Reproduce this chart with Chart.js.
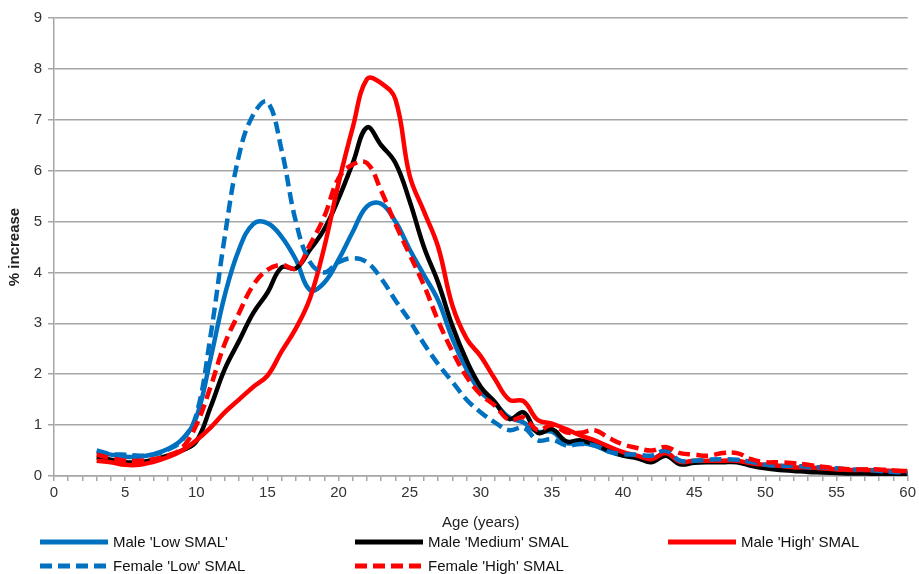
<!DOCTYPE html>
<html>
<head>
<meta charset="UTF-8">
<title>SMAL growth</title>
<script src="https://cdn.jsdelivr.net/npm/chart.js"></script>
<style>
  body { margin: 0; background: #fff; }
</style>
</head>
<body>
<canvas id="myChart" width="919" height="574"></canvas>
<script>
// ages in years
const ages = [3, 4, 5, 6, 7, 8, 9, 10, 11, 12, 13, 14, 15, 16, 17, 18, 19, 20,
  21, 22, 23, 24, 25, 26, 27, 28, 29, 30, 31, 32, 33, 34, 35, 36, 37, 38, 39, 40,
  41, 42, 43, 44, 45, 46, 47, 48, 49, 50, 51, 52, 53, 54, 55, 56, 57, 58, 59, 60];

const maleLow = [0.47, 0.42, 0.38, 0.38, 0.43, 0.53, 0.72, 1.15, 2.3, 3.55, 4.45, 4.95, 4.97, 4.7, 4.25, 3.65, 3.8, 4.25,
  4.8, 5.3, 5.35, 5.0, 4.45, 3.95, 3.45, 2.7, 2.1, 1.65, 1.42, 1.15, 1.05, 0.87, 0.87, 0.65, 0.65, 0.6, 0.48, 0.4,
  0.38, 0.33, 0.45, 0.27, 0.28, 0.28, 0.28, 0.28, 0.23, 0.2, 0.17, 0.15, 0.15, 0.12, 0.12, 0.1, 0.08, 0.08, 0.07, 0.05];

const maleMedium = [0.37, 0.32, 0.27, 0.27, 0.32, 0.4, 0.5, 0.68, 1.35, 2.1, 2.65, 3.2, 3.6, 4.1, 4.08, 4.45, 4.85, 5.45,
  6.15, 6.85, 6.5, 6.15, 5.4, 4.5, 3.8, 2.95, 2.27, 1.75, 1.45, 1.12, 1.25, 0.85, 0.92, 0.68, 0.7, 0.62, 0.5, 0.4,
  0.35, 0.27, 0.4, 0.23, 0.26, 0.27, 0.27, 0.27, 0.2, 0.15, 0.12, 0.1, 0.08, 0.07, 0.06, 0.05, 0.05, 0.04, 0.04, 0.03];

const maleHigh = [0.3, 0.27, 0.22, 0.22, 0.28, 0.37, 0.5, 0.7, 0.95, 1.25, 1.5, 1.75, 1.97, 2.45, 2.9, 3.5, 4.5, 5.75,
  6.85, 7.8, 7.72, 7.4, 5.9, 5.2, 4.5, 3.35, 2.7, 2.35, 1.9, 1.5, 1.47, 1.1, 1.03, 0.92, 0.8, 0.7, 0.58, 0.47,
  0.4, 0.33, 0.45, 0.28, 0.3, 0.3, 0.3, 0.3, 0.25, 0.22, 0.2, 0.17, 0.17, 0.15, 0.13, 0.12, 0.12, 0.11, 0.1, 0.1];

const femaleLow = [0.5, 0.43, 0.42, 0.4, 0.42, 0.52, 0.7, 1.2, 2.75, 4.7, 6.3, 7.1, 7.35, 6.4, 5.0, 4.2, 4.0, 4.2,
  4.28, 4.2, 3.88, 3.45, 3.05, 2.6, 2.2, 1.85, 1.5, 1.25, 1.05, 0.9, 0.95, 0.7, 0.72, 0.6, 0.63, 0.6, 0.48, 0.43,
  0.42, 0.4, 0.5, 0.3, 0.3, 0.32, 0.33, 0.32, 0.28, 0.22, 0.2, 0.2, 0.18, 0.17, 0.15, 0.13, 0.12, 0.1, 0.08, 0.07];

const femaleHigh = [0.42, 0.35, 0.3, 0.3, 0.33, 0.4, 0.55, 1.0, 1.75, 2.6, 3.2, 3.75, 4.05, 4.15, 4.08, 4.55, 5.1, 5.85,
  6.12, 6.15, 5.6, 4.95, 4.35, 3.75, 3.05, 2.45, 1.95, 1.6, 1.38, 1.1, 1.15, 0.9, 1.0, 0.86, 0.85, 0.9, 0.75, 0.62,
  0.55, 0.5, 0.57, 0.45, 0.42, 0.4, 0.45, 0.45, 0.33, 0.27, 0.27, 0.25, 0.22, 0.18, 0.15, 0.13, 0.13, 0.13, 0.11, 0.09];

const seriesNames = ["Male 'Low SMAL'", "Male 'Medium' SMAL", "Male 'High' SMAL", "Female 'Low' SMAL", "Female 'High' SMAL"];

const BLUE = '#0070C0';
const RED = '#FF0000';
const GRID = '#A6A6A6';
const FONT = "'Liberation Sans', Arial, sans-serif";

function toPoints(vals) {
    return ages.map((a, i) => ({ x: a, y: vals[i] }));
}

function lineSet(label, vals, color, dashed, order) {
    return {
        label: label,
        data: toPoints(vals),
        borderColor: color,
        backgroundColor: color,
        borderWidth: 4.5,
        borderDash: dashed ? [12, 6] : [],
        pointRadius: 0,
        tension: 0.4,
        fill: false,
        order: order
    };
}

// legend laid out in a 3 column grid under the axis title
const gridLegend = {
    id: 'gridLegend',
    afterDraw(chart) {
        const ctx = chart.ctx;
        const cols = [40, 355, 668];
        chart.data.datasets.forEach(function (ds, i) {
            const x = cols[i % 3];
            const y = 542 + Math.floor(i / 3) * 24;
            ctx.save();
            ctx.strokeStyle = ds.borderColor;
            ctx.lineWidth = 5;
            ctx.setLineDash(ds.borderDash);
            ctx.beginPath();
            ctx.moveTo(x, y);
            ctx.lineTo(x + 68, y);
            ctx.stroke();
            ctx.setLineDash([]);
            ctx.fillStyle = '#111';
            ctx.font = '15px ' + FONT;
            ctx.textBaseline = 'middle';
            ctx.fillText(ds.label, x + 73, y + 1);
            ctx.restore();
        });
    }
};

new Chart(document.getElementById('myChart'), {
    type: 'line',
    data: {
        datasets: [
            lineSet(seriesNames[0], maleLow, BLUE, false, 5),
            lineSet(seriesNames[1], maleMedium, '#000000', false, 4),
            lineSet(seriesNames[2], maleHigh, RED, false, 3),
            lineSet(seriesNames[3], femaleLow, BLUE, true, 2),
            lineSet(seriesNames[4], femaleHigh, RED, true, 1)
        ]
    },
    options: {
        responsive: false,
        animation: false,
        devicePixelRatio: 1,
        layout: { padding: { top: 18, right: 10, bottom: 42, left: 0 } },
        plugins: {
            legend: { display: false },
            tooltip: { enabled: false }
        },
        scales: {
            x: {
                type: 'linear',
                min: 0,
                max: 60,
                afterFit: function (scale) { scale.height = 56; },
                grid: { drawOnChartArea: false, drawTicks: true, tickLength: 5, color: GRID, lineWidth: 1.5 },
                border: { color: GRID, width: 1.5 },
                ticks: {
                    stepSize: 1,
                    autoSkip: false,
                    maxRotation: 0,
                    padding: 3,
                    color: '#333',
                    font: { family: FONT, size: 15 },
                    callback: function (v) { return v % 5 === 0 ? v : ''; }
                },
                title: {
                    display: true,
                    text: 'Age (years)',
                    color: '#222',
                    font: { family: FONT, size: 15 },
                    padding: { top: 0, bottom: 0 }
                }
            },
            y: {
                min: 0,
                max: 9,
                afterFit: function (scale) { scale.width = 54; },
                grid: { color: GRID, lineWidth: 1.5, tickLength: 6 },
                border: { color: GRID, width: 1.5 },
                ticks: {
                    stepSize: 1,
                    padding: 6,
                    color: '#333',
                    font: { family: FONT, size: 15 }
                },
                title: {
                    display: true,
                    text: '% increase',
                    color: '#222',
                    font: { family: FONT, size: 15, weight: 'bold' },
                    padding: { top: 6, bottom: 0 }
                }
            }
        }
    },
    plugins: [gridLegend]
});
</script>
</body>
</html>
